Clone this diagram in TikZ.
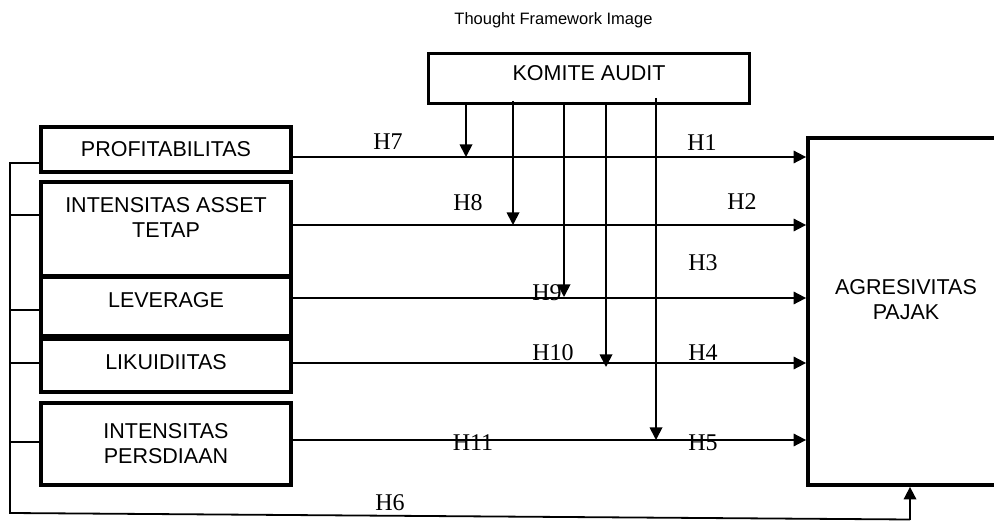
\documentclass[tikz,border=0pt]{standalone}
\usepackage{fontspec}
\setmainfont{Liberation Sans}
\newfontfamily\serifH{Liberation Serif}
\usetikzlibrary{arrows.meta}
\begin{document}
\begin{tikzpicture}[x=1pt,y=-1pt,
  varbox/.style={draw, line width=3.8pt, inner sep=0pt, minimum width=250pt},
  bigbox/.style={draw, line width=3.8pt, inner sep=0pt},
  txt/.style={font=\fontsize{21.5}{25}\selectfont, align=center, inner sep=0pt},
  ttl/.style={font=\fontsize{16.5}{19}\selectfont, inner sep=0pt},
  hlab/.style={font=\serifH\fontsize{24}{26}\selectfont, inner sep=0pt},
  conn/.style={line width=1.8pt},
  arr/.style={conn, -{Triangle[length=12.5pt,width=12.5pt]}},
]
\useasboundingbox (0,0) rectangle (994,521);
\clip (0,0) rectangle (994,521);

% title
\node[ttl, anchor=base] (title) at (553.5,25) {Thought Framework Image};

% independent variable boxes
\node[varbox, minimum height=45pt] (prof) at (166,149.5) {};
\node[txt] (proft) at (166,149.5) {PROFITABILITAS};
\node[varbox, minimum height=94pt] (asset) at (166,229) {};
\node[txt] (assett) at (166,217) {INTENSITAS ASSET\\TETAP};
\node[varbox, minimum height=59pt] (lev) at (166,306.5) {};
\node[txt] (levt) at (166,300.5) {LEVERAGE};
\node[varbox, minimum height=53pt] (lik) at (166,365.5) {};
\node[txt] (likt) at (166,362.5) {LIKUIDIITAS};
\node[varbox, minimum height=82pt] (pers) at (166,444) {};
\node[txt] (perst) at (166,443.5) {INTENSITAS\\PERSDIAAN};

% moderating box
\node[bigbox, minimum width=321pt, minimum height=50pt] (kom) at (589,78.5) {};
\node[txt] (komt) at (589,73.5) {KOMITE AUDIT};

% dependent box (cut at right edge)
\node[bigbox, minimum width=202pt, minimum height=347pt] (agr) at (909,311.5) {};
\node[txt] (agrt) at (906,300) {AGRESIVITAS\\PAJAK};

% row levels
\coordinate (y1) at (0,157);
\coordinate (y2) at (0,225);
\coordinate (y3) at (0,298);
\coordinate (y4) at (0,363);
\coordinate (y5) at (0,440);

% direct arrows
\draw[arr] (prof.east |- y1) -- (agr.west |- y1);
\draw[arr] (asset.east |- y2) -- (agr.west |- y2);
\draw[arr] (lev.east |- y3) -- (agr.west |- y3);
\draw[arr] (lik.east |- y4) -- (agr.west |- y4);
\draw[arr] (pers.east |- y5) -- (agr.west |- y5);

% moderation arrows
\coordinate (v1) at (466,0);
\coordinate (v2) at (513,0);
\coordinate (v3) at (564,0);
\coordinate (v4) at (606,0);
\coordinate (v5) at (656,0);
\coordinate (v3end) at (564,297);
\coordinate (v4end) at (606,367);
\coordinate (v2top) at (513,101);
\coordinate (v5top) at (656,98);
\draw[arr] (v1 |- kom.south) -- (v1 |- y1);
\draw[arr] (v2top) -- (v2 |- y2);
\draw[arr] (v3 |- kom.south) -- (v3end);
\draw[arr] (v4 |- kom.south) -- (v4end);
\draw[arr] (v5top) -- (v5 |- y5);

% simultaneous (H6) bus
\coordinate (s1) at (10,163);
\coordinate (s2) at (10,215);
\coordinate (s3) at (10,310);
\coordinate (s4) at (10,363);
\coordinate (s5) at (10,442);
\coordinate (bb) at (10,513);
\coordinate (bc) at (910,519.5);
\draw[conn] (s1 -| prof.west) -- (s1) -- (bb) -- (bc);
\draw[conn] (s2) -- (s2 -| asset.west);
\draw[conn] (s3) -- (s3 -| lev.west);
\draw[conn] (s4) -- (s4 -| lik.west);
\draw[conn] (s5) -- (s5 -| pers.west);
\draw[arr] (bc) -- (bc |- agr.south);

% hypothesis labels
\node[hlab] (h1) at (702,143) {H1};
\node[hlab] (h2) at (742,202) {H2};
\node[hlab] (h3) at (703,263) {H3};
\node[hlab] (h4) at (703,353) {H4};
\node[hlab] (h5) at (703,443) {H5};
\node[hlab] (h6) at (390,503) {H6};
\node[hlab] (h7) at (388,142) {H7};
\node[hlab] (h8) at (468,203) {H8};
\node[hlab] (h9) at (547,293) {H9};
\node[hlab] (h10) at (553,353) {H10};
\node[hlab] (h11) at (473,443) {H11};
\end{tikzpicture}
\end{document}
